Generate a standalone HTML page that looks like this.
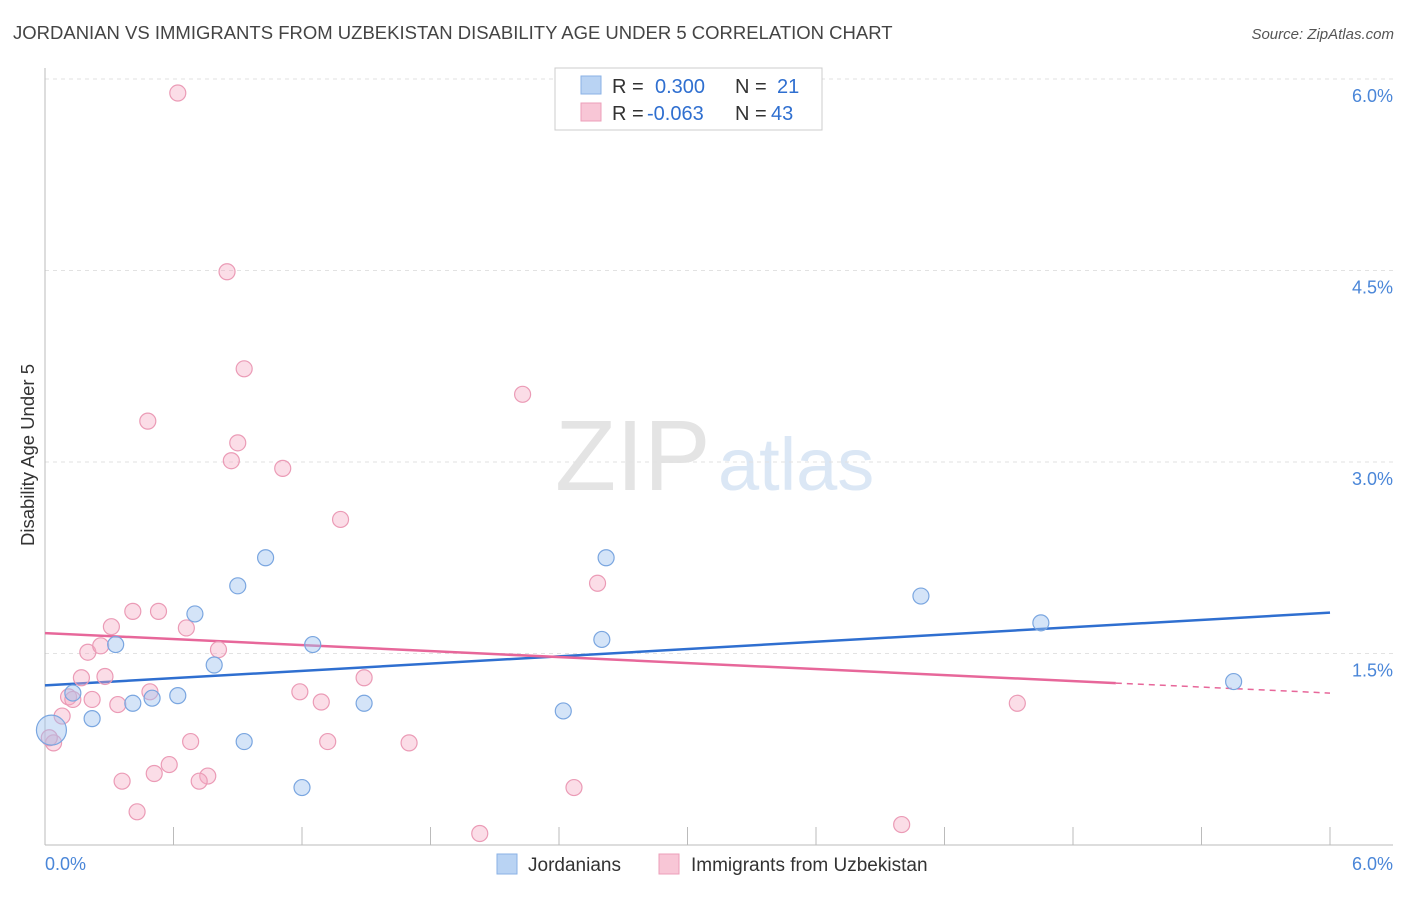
<!DOCTYPE html>
<html><head><meta charset="utf-8"><style>
body{margin:0;background:#fff;font-family:"Liberation Sans",sans-serif;}
svg text{font-family:"Liberation Sans",sans-serif;}
</style></head><body>
<svg id="chart" width="1406" height="892" xmlns="http://www.w3.org/2000/svg">
<text x="13" y="39" font-size="18.5" fill="#444">JORDANIAN VS IMMIGRANTS FROM UZBEKISTAN DISABILITY AGE UNDER 5 CORRELATION CHART</text>
<text x="1394" y="39" font-size="15" fill="#555" font-style="italic" text-anchor="end">Source: ZipAtlas.com</text>
<text x="555" y="490" font-size="100" fill="#e4e4e4" font-family="Liberation Serif">ZIP</text>
<text x="718" y="490" font-size="74" fill="#dbe7f5">atlas</text>
<text transform="translate(34,455) rotate(-90)" font-size="18.5" fill="#333" text-anchor="middle">Disability Age Under 5</text>
<g id="grid"></g><g id="ticks"></g><g id="trends"></g><g id="pts"></g>
<g>
<rect x="555" y="68" width="267" height="62" fill="#fff" stroke="#ccc"/>
<rect x="581" y="76" width="20" height="18" fill="#b9d3f3" stroke="#8ab2e6"/>
<rect x="581" y="103" width="20" height="18" fill="#f8c6d6" stroke="#ec9fb9"/>
<text x="612" y="93" font-size="20" fill="#333">R =</text>
<text x="655" y="93" font-size="20" fill="#2f6fd0">0.300</text>
<text x="735" y="93" font-size="20" fill="#333">N =</text>
<text x="777" y="93" font-size="20" fill="#2f6fd0">21</text>
<text x="612" y="120" font-size="20" fill="#333">R =</text>
<text x="647" y="120" font-size="20" fill="#2f6fd0">-0.063</text>
<text x="735" y="120" font-size="20" fill="#333">N =</text>
<text x="771" y="120" font-size="20" fill="#2f6fd0">43</text>
</g>
<g>
<rect x="497" y="854" width="20" height="20" fill="#b9d3f3" stroke="#8ab2e6"/>
<text x="528" y="871" font-size="19" fill="#333">Jordanians</text>
<rect x="659" y="854" width="20" height="20" fill="#f8c6d6" stroke="#ec9fb9"/>
<text x="691" y="871" font-size="19" fill="#333">Immigrants from Uzbekistan</text>
</g>
</svg>
<script>
const xTicks=[0,0.6,1.2,1.8,2.4,3.0,3.6,4.2,4.8,5.4,6.0];
const yTicks=[1.5,3.0,4.5,6.0];
const yTickLabels=["1.5%","3.0%","4.5%","6.0%"];
const blueX=[0.03,0.13,0.22,0.33,0.41,0.50,0.62,0.70,0.79,0.90,0.93,1.03,1.20,1.25,1.49,2.42,2.60,2.62,4.09,4.65,5.55];
const blueY=[0.90,1.19,0.99,1.57,1.11,1.15,1.17,1.81,1.41,2.03,0.81,2.25,0.45,1.57,1.11,1.05,1.61,2.25,1.95,1.74,1.28];
const pinkX=[0.62,0.85,0.93,0.48,0.90,0.87,1.11,2.23,1.38,2.58,0.41,0.53,0.31,0.66,0.20,0.26,0.81,0.17,0.28,0.11,0.13,0.22,0.49,0.34,1.19,1.29,1.49,0.08,0.04,0.68,1.32,1.70,0.58,0.51,0.36,0.76,0.72,0.43,2.03,2.47,4.00,4.54,0.02];
const pinkY=[5.89,4.49,3.73,3.32,3.15,3.01,2.95,3.53,2.55,2.05,1.83,1.83,1.71,1.70,1.51,1.56,1.53,1.31,1.32,1.16,1.14,1.14,1.20,1.10,1.20,1.12,1.31,1.01,0.80,0.81,0.81,0.80,0.63,0.56,0.50,0.54,0.50,0.26,0.09,0.45,0.16,1.11,0.84];
const blueTrend=[1.25,1.82];
const pinkTrend=[1.66,1.19];
const pinkSolidEnd=5.0;
const NS="http://www.w3.org/2000/svg";
const X=v=>45+v/6*1285, Y=v=>845-v*127.67;
function mk(t,a,p){const e=document.createElementNS(NS,t);for(const k in a)e.setAttribute(k,a[k]);p.appendChild(e);return e;}
const grid=document.getElementById('grid'),ticks=document.getElementById('ticks'),trends=document.getElementById('trends'),pts=document.getElementById('pts');
yTicks.forEach((v,i)=>{
 const l=mk('line',{x1:45,x2:1393,y1:Y(v),y2:Y(v),stroke:'#e2e2e2','stroke-dasharray':'4,4'},grid);
 
 
 const t=mk('text',{x:1393,y:Y(v)+23,'font-size':18,fill:'#4a86d8','text-anchor':'end'},grid);
 t.textContent=yTickLabels[i];
 
 
});
const ax=mk('line',{x1:45,x2:45,y1:68,y2:845,stroke:'#bbb'},ticks);


const bx=mk('line',{x1:45,x2:1393,y1:845,y2:845,stroke:'#bbb'},ticks);


xTicks.forEach(v=>{
 const l=mk('line',{x1:X(v),x2:X(v),y1:827,y2:845,stroke:'#bbb'},ticks);
 
 
});
[[0,"0.0%","start",45],[6,"6.0%","end",1393]].forEach(d=>{
 const t=mk('text',{x:d[3],y:870,'font-size':18,fill:'#4a86d8','text-anchor':d[2]},ticks);
 t.textContent=d[1];
 
 
});
let bl=mk('line',{x1:X(0),y1:Y(blueTrend[0]),x2:X(6),y2:Y(blueTrend[1]),stroke:'#2f6fd0','stroke-width':2.5},trends);


const pAt=x=>pinkTrend[0]+(pinkTrend[1]-pinkTrend[0])*x/6;
let pl=mk('line',{x1:X(0),y1:Y(pinkTrend[0]),x2:X(pinkSolidEnd),y2:Y(pAt(pinkSolidEnd)),stroke:'#e7679a','stroke-width':2.5},trends);


let pd=mk('line',{x1:X(pinkSolidEnd),y1:Y(pAt(pinkSolidEnd)),x2:X(6),y2:Y(pinkTrend[1]),stroke:'#e7679a','stroke-width':1.5,'stroke-dasharray':'6,5'},trends);


pinkX.forEach((x,i)=>{
 const c=mk('circle',{cx:X(x),cy:Y(pinkY[i]),r:8,fill:'rgba(244,170,195,0.4)',stroke:'#eb9bb6','stroke-width':1.2},pts);
 
 
});
blueX.forEach((x,i)=>{
 const c=mk('circle',{cx:X(x),cy:Y(blueY[i]),r:i===0?15:8,fill:'rgba(160,195,240,0.45)',stroke:'#7aa6e0','stroke-width':1.2},pts);
 
 
});
</script>
</body></html>
